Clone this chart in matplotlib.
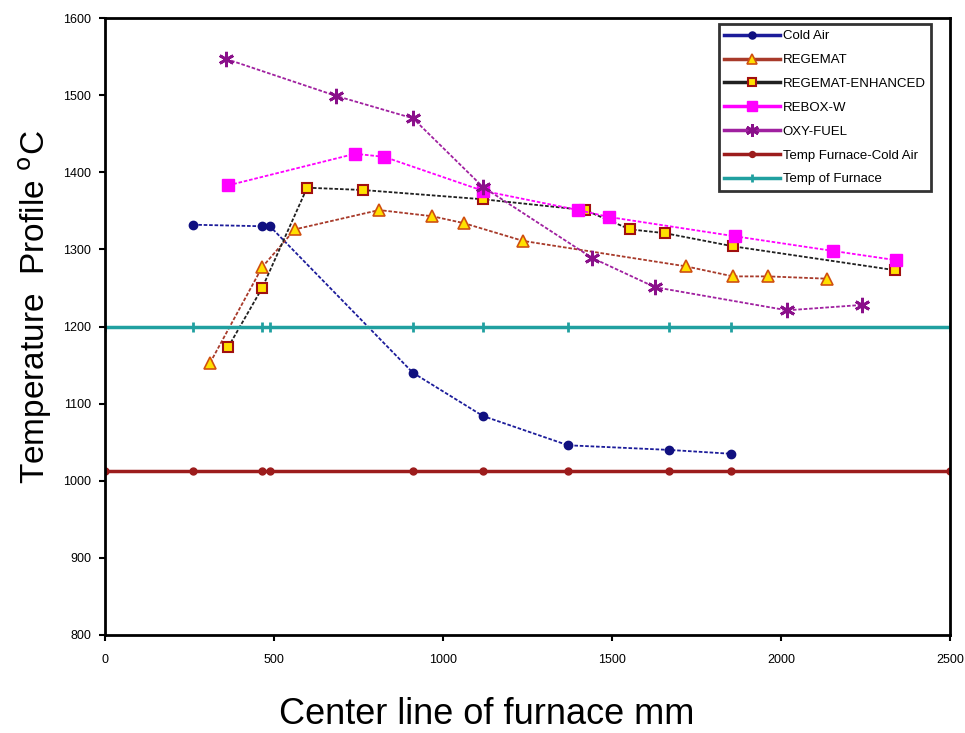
import matplotlib
matplotlib.use("Agg")
import matplotlib.pyplot as plt

plt.rcParams['font.family'] = ['Liberation Sans', 'DejaVu Sans']

# ---- data ----
ref_x = [0, 260, 465, 488, 911, 1118, 1370, 1669, 1852, 2500]

cold_x = [260, 465, 488, 911, 1118, 1370, 1669, 1852]
cold_y = [1332, 1330, 1330, 1140, 1084, 1046, 1040, 1035]

regemat_x = [311, 465, 562, 811, 968, 1062, 1237, 1719, 1858, 1962, 2136]
regemat_y = [1153, 1277, 1326, 1351, 1343, 1334, 1311, 1278, 1265, 1265, 1262]

enh_x = [364, 465, 598, 763, 1118, 1420, 1553, 1657, 1858, 2338]
enh_y = [1173, 1250, 1380, 1377, 1365, 1351, 1326, 1321, 1304, 1273]

rebox_x = [364, 740, 826, 1118, 1400, 1491, 1864, 2154, 2341]
rebox_y = [1383, 1424, 1420, 1376, 1351, 1342, 1317, 1298, 1286]

oxy_x = [358, 684, 911, 1118, 1441, 1627, 2018, 2240]
oxy_y = [1547, 1499, 1470, 1381, 1289, 1251, 1221, 1228]

furnace_cold_y = [1013] * len(ref_x)
furnace_y = [1200] * len(ref_x)

labels = ["Cold Air", "REGEMAT", "REGEMAT-ENHANCED", "REBOX-W", "OXY-FUEL",
          "Temp Furnace-Cold Air", "Temp of Furnace"]

fig = plt.figure(figsize=(9.65, 7.33), dpi=100)
ax = fig.add_axes([0.1088, 0.1337, 0.8757, 0.8417])

dash = (0, (2, 1))
h = []
h.append(ax.plot(cold_x, cold_y, color='#1c1c9a', ls=dash, lw=1.3, marker='o', ms=6,
                 mfc='#101080', mec='#101080', label=labels[0])[0])
h.append(ax.plot(regemat_x, regemat_y, color='#a83a2a', ls=dash, lw=1.3, marker='^', ms=8,
                 mfc='#ffe000', mec='#d05010', mew=1.2, label=labels[1])[0])
h.append(ax.plot(enh_x, enh_y, color='#202020', ls=dash, lw=1.3, marker='s', ms=6.5,
                 mfc='#ffe000', mec='#a01010', mew=1.5, label=labels[2])[0])
h.append(ax.plot(rebox_x, rebox_y, color='#ff00ff', ls=dash, lw=1.3, marker='s', ms=8,
                 mfc='#ff00ff', mec='#ff00ff', label=labels[3])[0])
h.append(ax.plot(oxy_x, oxy_y, color='#a020a0', ls=dash, lw=1.3, marker=(6, 2, 0), ms=11,
                 mfc='#8a108a', mec='#8a108a', mew=2, label=labels[4])[0])
h.append(ax.plot(ref_x, furnace_cold_y, color='#9c1c1c', ls='-', lw=2.5, marker='o', ms=5,
                 mfc='#9c1c1c', mec='#9c1c1c', label=labels[5], clip_on=True)[0])
h.append(ax.plot(ref_x, furnace_y, color='#20a0a0', ls='-', lw=2.5, marker='|', ms=7, mew=2,
                 mfc='#20a0a0', mec='#20a0a0', label=labels[6], clip_on=True)[0])

ax.set_xlim(0, 2500)
ax.set_ylim(800, 1600)
ax.set_xticks([0, 500, 1000, 1500, 2000, 2500])
ax.set_yticks(range(800, 1601, 100))
ax.tick_params(axis='both', labelsize=9, length=4, width=1.5, direction='out')
ax.tick_params(axis='x', pad=10)
ax.tick_params(axis='y', pad=6)
for s in ax.spines.values():
    s.set_linewidth(2)
    s.set_color('black')

ax.set_xlabel("Center line of furnace mm", fontsize=26)
ax.xaxis.set_label_coords(0.452, -0.100)
ax.set_ylabel("Temperature  Profile $^{\\mathrm{o}}$C", fontsize=24)
ax.yaxis.set_label_coords(-0.060, 0.532)

leg = ax.legend(handles=h, loc='upper right', bbox_to_anchor=(0.978, 0.99),
                fontsize=9.5, frameon=True, fancybox=False, edgecolor='black',
                handlelength=4.2, handletextpad=0.2, labelspacing=0.88,
                borderpad=0.45, borderaxespad=0.0, markerscale=0.85)
leg.get_frame().set_linewidth(2)
for line in leg.get_lines():
    line.set_linestyle('-')
    line.set_linewidth(2.5)

fig.savefig("out.png", dpi=100)
